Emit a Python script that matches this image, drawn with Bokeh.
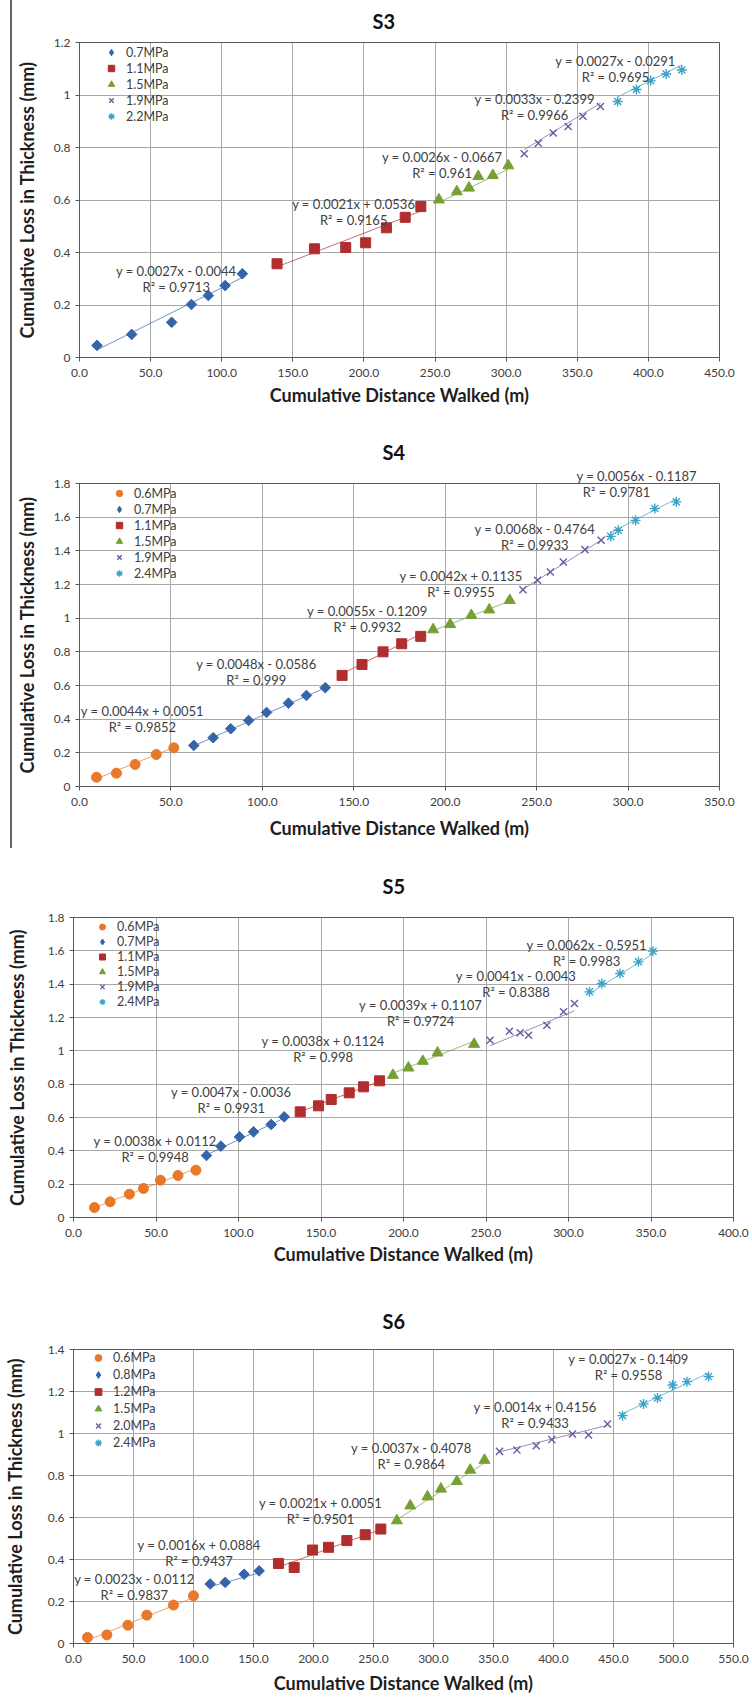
import numpy as np
from bokeh.plotting import figure
from bokeh.models import (Range1d, FixedTicker, NumeralTickFormatter, Label, Title,
                          Legend, LegendItem, Div, ColumnDataSource)
from bokeh.layouts import column, row
from bokeh.embed import file_html
from bokeh.resources import INLINE

FONT = "Lato"

# ------------------------------------------------------------------ S3 data
s3_series = ["0.7MPa", "1.1MPa", "1.5MPa", "1.9MPa", "2.2MPa"]
s3_x = [
    [12.3, 36.7, 64.8, 78.7, 90.6, 102.4, 114.5],
    [138.9, 165.2, 187.2, 201.2, 215.8, 229.0, 240.0],
    [252.7, 265.3, 273.9, 280.4, 290.6, 301.5],
    [312.7, 322.6, 333.1, 343.6, 354.0, 366.3],
    [378.4, 391.6, 401.6, 412.5, 423.5],
]
s3_y = [
    [0.046, 0.088, 0.134, 0.202, 0.236, 0.274, 0.319],
    [0.357, 0.414, 0.419, 0.437, 0.494, 0.534, 0.575],
    [0.601, 0.632, 0.646, 0.690, 0.694, 0.731],
    [0.776, 0.816, 0.855, 0.880, 0.919, 0.956],
    [0.975, 1.021, 1.054, 1.080, 1.095],
]
s3_slope = [0.0027, 0.0021, 0.0026, 0.0033, 0.0027]
s3_icpt = [-0.0044, 0.0536, -0.0667, -0.2399, -0.0291]
s3_eq = ["y = 0.0027x - 0.0044", "y = 0.0021x + 0.0536", "y = 0.0026x - 0.0667",
         "y = 0.0033x - 0.2399", "y = 0.0027x - 0.0291"]
s3_r2 = ["R² = 0.9713", "R² = 0.9165", "R² = 0.961", "R² = 0.9966", "R² = 0.9695"]
s3_lab_x = [68.0, 192.8, 255.0, 320.0, 376.9]
s3_lab_y = [0.329, 0.583, 0.763, 0.985, 1.128]
s3_xticks = [0, 50, 100, 150, 200, 250, 300, 350, 400, 450]
s3_yticks = [0, 0.2, 0.4, 0.6, 0.8, 1.0, 1.2]

# ------------------------------------------------------------------ S4 data
s4_series = ["0.6MPa", "0.7MPa", "1.1MPa", "1.5MPa", "1.9MPa", "2.4MPa"]
s4_x = [
    [9.3, 20.2, 30.4, 42.0, 51.6],
    [62.5, 73.1, 82.7, 92.5, 102.3, 114.3, 124.1, 134.4],
    [143.6, 154.5, 166.0, 176.2, 186.6],
    [193.4, 202.7, 214.3, 224.1, 235.3],
    [242.5, 250.5, 257.5, 264.6, 276.4, 285.3],
    [290.5, 294.6, 304.1, 314.6, 326.4],
]
s4_y = [
    [0.055, 0.079, 0.131, 0.190, 0.230],
    [0.244, 0.290, 0.343, 0.392, 0.440, 0.495, 0.541, 0.587],
    [0.660, 0.725, 0.800, 0.848, 0.892],
    [0.932, 0.963, 1.017, 1.050, 1.106],
    [1.169, 1.225, 1.274, 1.334, 1.407, 1.463],
    [1.486, 1.522, 1.581, 1.651, 1.691],
]
s4_slope = [0.0044, 0.0048, 0.0055, 0.0042, 0.0068, 0.0056]
s4_icpt = [0.0051, -0.0586, -0.1209, 0.1135, -0.4764, -0.1187]
s4_eq = ["y = 0.0044x + 0.0051", "y = 0.0048x - 0.0586", "y = 0.0055x - 0.1209",
         "y = 0.0042x + 0.1135", "y = 0.0068x - 0.4764", "y = 0.0056x - 0.1187"]
s4_r2 = ["R² = 0.9852", "R² = 0.999", "R² = 0.9932", "R² = 0.9955", "R² = 0.9933", "R² = 0.9781"]
s4_lab_x = [34.4, 96.7, 157.4, 208.6, 249.0, 293.7]
s4_lab_y = [0.448, 0.725, 1.040, 1.249, 1.528, 1.843]
s4_xticks = [0, 50, 100, 150, 200, 250, 300, 350]
s4_yticks = [0, 0.2, 0.4, 0.6, 0.8, 1.0, 1.2, 1.4, 1.6, 1.8]

# ------------------------------------------------------------------ S5 data
s5_series = ["0.6MPa", "0.7MPa", "1.1MPa", "1.5MPa", "1.9MPa", "2.4MPa"]
s5_x = [
    [12.7, 22.2, 33.9, 42.4, 52.7, 63.3, 74.2],
    [80.6, 89.3, 100.6, 109.1, 119.8, 127.7],
    [137.4, 148.5, 156.2, 167.1, 175.8, 185.5],
    [193.6, 203.0, 211.7, 220.6, 242.8],
    [252.5, 264.2, 270.7, 275.8, 286.9, 297.0, 303.6],
    [312.7, 320.2, 331.3, 342.4, 351.2],
]
s5_y = [
    [0.060, 0.094, 0.140, 0.174, 0.224, 0.252, 0.284],
    [0.372, 0.428, 0.484, 0.514, 0.558, 0.604],
    [0.634, 0.670, 0.708, 0.748, 0.784, 0.820],
    [0.854, 0.898, 0.938, 0.988, 1.040],
    [1.064, 1.118, 1.108, 1.094, 1.154, 1.234, 1.284],
    [1.354, 1.404, 1.464, 1.534, 1.598],
]
s5_slope = [0.0038, 0.0047, 0.0038, 0.0039, 0.0041, 0.0062]
s5_icpt = [0.0112, -0.0036, 0.1124, 0.1107, -0.0043, -0.5951]
s5_eq = ["y = 0.0038x + 0.0112", "y = 0.0047x - 0.0036", "y = 0.0038x + 0.1124",
         "y = 0.0039x + 0.1107", "y = 0.0041x - 0.0043", "y = 0.0062x - 0.5951"]
s5_r2 = ["R² = 0.9948", "R² = 0.9931", "R² = 0.998", "R² = 0.9724", "R² = 0.8388", "R² = 0.9983"]
s5_lab_x = [49.5, 95.6, 151.3, 210.4, 268.2, 311.0]
s5_lab_y = [0.458, 0.754, 1.058, 1.278, 1.450, 1.638]
s5_xticks = [0, 50, 100, 150, 200, 250, 300, 350, 400]
s5_yticks = [0, 0.2, 0.4, 0.6, 0.8, 1.0, 1.2, 1.4, 1.6, 1.8]

# ------------------------------------------------------------------ S6 data
s6_series = ["0.6MPa", "0.8MPa", "1.2MPa", "1.5MPa", "2.0MPa", "2.4MPa"]
s6_x = [
    [11.7, 27.8, 45.3, 61.1, 83.3, 100.0],
    [113.9, 126.4, 142.2, 154.7],
    [170.8, 183.9, 199.2, 212.5, 227.8, 243.1, 256.1],
    [269.5, 280.6, 295.0, 306.2, 319.5, 330.6, 342.5],
    [355.0, 369.5, 385.6, 398.6, 415.8, 429.2, 445.0],
    [457.5, 475.0, 486.7, 499.2, 511.2, 529.2],
]
s6_y = [
    [0.029, 0.041, 0.087, 0.135, 0.183, 0.227],
    [0.283, 0.291, 0.330, 0.346],
    [0.381, 0.362, 0.445, 0.458, 0.490, 0.518, 0.545],
    [0.585, 0.656, 0.699, 0.736, 0.772, 0.826, 0.873],
    [0.915, 0.921, 0.942, 0.971, 0.998, 0.993, 1.045],
    [1.085, 1.141, 1.169, 1.231, 1.247, 1.271],
]
s6_slope = [0.0023, 0.0016, 0.0021, 0.0037, 0.0014, 0.0027]
s6_icpt = [-0.0112, 0.0884, 0.0051, -0.4078, 0.4156, -0.1409]
s6_eq = ["y = 0.0023x - 0.0112", "y = 0.0016x + 0.0884", "y = 0.0021x + 0.0051",
         "y = 0.0037x - 0.4078", "y = 0.0014x + 0.4156", "y = 0.0027x - 0.1409"]
s6_r2 = ["R² = 0.9837", "R² = 0.9437", "R² = 0.9501", "R² = 0.9864", "R² = 0.9433", "R² = 0.9558"]
s6_lab_x = [50.7, 104.6, 205.8, 281.5, 384.6, 462.5]
s6_lab_y = [0.306, 0.470, 0.669, 0.931, 1.125, 1.355]
s6_xticks = [0, 50, 100, 150, 200, 250, 300, 350, 400, 450, 500, 550]
s6_yticks = [0, 0.2, 0.4, 0.6, 0.8, 1.0, 1.2, 1.4]

# ------------------------------------------------------------------ styles
STY = {
    "circle":   dict(marker="circle", leg="circle", size=10, color="#E8782A", angle=0.0, lw=1),
    "diamond":  dict(marker="square", leg="diamond", size=7.5, color="#3565A8", angle=np.pi / 4, lw=1),
    "square":   dict(marker="square", leg="square", size=10, color="#B02E2E", angle=0.0, lw=1),
    "triangle": dict(marker="triangle", leg="triangle", size=11, color="#77A034", angle=0.0, lw=1),
    "x":        dict(marker="x", leg="x", size=10, color="#6B5B9E", angle=0.0, lw=1.4),
    "asterisk": dict(marker="asterisk", leg="asterisk", size=10, color="#3BA3C9", angle=0.0, lw=1.4),
}
M5 = ["diamond", "square", "triangle", "x", "asterisk"]
M6 = ["circle", "diamond", "square", "triangle", "x", "asterisk"]
TXT = "#404040"


def panel(name, width, height, bl, br, bt, bb, xmax, ymax, xticks, yticks, markers,
          series, xs, ys, slopes, icpts, eqs, r2s, lab_x, lab_y, ttl, leg,
          ylab_so, xlab_so, xtick_so):
    fw = width - bl - br
    fh = height - bt - bb
    p = figure(width=width, height=height, output_backend="svg", toolbar_location=None,
               x_range=Range1d(0, xmax), y_range=Range1d(0, ymax), title=name,
               min_border_left=bl, min_border_right=br, min_border_top=bt,
               min_border_bottom=bb, background_fill_color="white",
               border_fill_color="white")
    t_off, t_so, t_va = ttl
    p.title.align = "left"
    p.title.offset = t_off
    p.title.standoff = t_so
    p.title.vertical_align = t_va
    p.title.text_font = FONT
    p.title.text_font_size = "20px"
    p.title.text_font_style = "bold"
    p.title.text_color = "#111111"

    p.outline_line_color = "#595959"
    p.outline_line_width = 1
    p.xaxis.ticker = FixedTicker(ticks=xticks)
    p.yaxis.ticker = FixedTicker(ticks=yticks)
    p.xaxis.formatter = NumeralTickFormatter(format="0.0")
    p.yaxis.formatter = NumeralTickFormatter(format="0.[0]")
    for ax in (p.xaxis, p.yaxis):
        ax.axis_line_color = "#595959"
        ax.major_tick_line_color = "#595959"
        ax.major_tick_out = 4
        ax.major_tick_in = 0
        ax.minor_tick_line_color = None
        ax.major_label_text_font = FONT
        ax.major_label_text_font_size = "12px"
        ax.major_label_text_color = TXT
        ax.axis_label_text_font = FONT
        ax.axis_label_text_font_size = "18px"
        ax.axis_label_text_font_style = "bold"
        ax.axis_label_text_color = "#1e1e1e"
    p.xaxis.axis_label = "Cumulative Distance Walked (m)"
    p.yaxis.axis_label = "Cumulative Loss in Thickness (mm)"
    p.xaxis.major_label_standoff = xtick_so
    p.yaxis.major_label_standoff = 5
    p.xaxis.axis_label_standoff = xlab_so
    p.yaxis.axis_label_standoff = ylab_so
    p.xgrid.grid_line_color = "#a8a8a8"
    p.ygrid.grid_line_color = "#a8a8a8"

    items = []
    for i, mk in enumerate(markers):
        st = STY[mk]
        src = ColumnDataSource(dict(x=xs[i], y=ys[i]))
        x0, x1 = min(xs[i]), max(xs[i])
        lx = np.array([x0, x1])
        p.line(lx, slopes[i] * lx + icpts[i], line_color=st["color"], line_alpha=0.7,
               line_width=1)
        r = p.scatter("x", "y", source=src, marker=st["marker"], size=st["size"],
                      angle=st["angle"], fill_color=st["color"], line_color=st["color"],
                      line_width=st["lw"])
        if st["leg"] != st["marker"]:
            # hidden twin renderer that only supplies the legend symbol
            r = p.scatter("x", "y", source=src, marker=st["leg"], size=st["size"],
                          fill_color=st["color"], line_color=st["color"],
                          line_width=st["lw"], visible=False)
        items.append(LegendItem(label=series[i], renderers=[r]))
        if lab_y[i] > ymax:
            # equation sits above the plot area: draw it in the panel above the frame
            fx = lab_x[i] / xmax * fw
            eq_t = Title(text=eqs[i], align="left", offset=int(round(fx - 52)),
                         standoff=0, vertical_align="bottom", text_font=FONT,
                         text_font_size="13px", text_font_style="normal",
                         text_color=TXT)
            p.add_layout(eq_t, "above")
        else:
            p.add_layout(Label(x=lab_x[i], y=lab_y[i], text=eqs[i], text_align="center",
                               text_baseline="middle", text_font=FONT,
                               text_font_size="13px", text_color=TXT))
        p.add_layout(Label(x=lab_x[i], y=lab_y[i], y_offset=-16, text=r2s[i],
                           text_align="center", text_baseline="middle", text_font=FONT,
                           text_font_size="13px", text_color=TXT))

    ox, oy, rh = leg
    n = len(items)
    legend = Legend(items=items, location=(ox - 10, int(round(fh - (oy - rh / 2) - n * rh))),
                    glyph_width=20, glyph_height=rh, label_height=rh, spacing=0,
                    padding=0, margin=0, label_standoff=5, label_text_font=FONT,
                    label_text_font_size="12.5px", label_text_color=TXT,
                    border_line_color=None, background_fill_alpha=0,
                    inactive_fill_alpha=0)
    p.add_layout(legend)
    return p


# the page itself starts at the window's top-left corner
p3 = panel("S3", 740, 420, 61, 33, 42, 63, 450, 1.2, s3_xticks, s3_yticks, M5,
           s3_series, s3_x, s3_y, s3_slope, s3_icpt, s3_eq, s3_r2, s3_lab_x, s3_lab_y,
           (293, 16, "top"), (32, 10, 16), 13, 4, 7)
p4 = panel("S4", 740, 428, 61, 25, 63, 62, 350, 1.8, s4_xticks, s4_yticks, M6,
           s4_series, s4_x, s4_y, s4_slope, s4_icpt, s4_eq, s4_r2, s4_lab_x, s4_lab_y,
           (303, 3, "bottom"), (40, 10, 16), 13, 8, 7)
p5 = panel("S5", 752, 429, 73, 19, 69, 60, 400, 1.8, s5_xticks, s5_yticks, M6,
           s5_series, s5_x, s5_y, s5_slope, s5_icpt, s5_eq, s5_r2, s5_lab_x, s5_lab_y,
           (309, 40, "bottom"), (29, 9, 15), 17, 3, 7)
p6 = panel("S6", 752, 420, 73, 19, 72, 54, 550, 1.4, s6_xticks, s6_yticks, M6,
           s6_series, s6_x, s6_y, s6_slope, s6_icpt, s6_eq, s6_r2, s6_lab_x, s6_lab_y,
           (309, 34, "bottom"), (25, 9, 17), 19, 6, 7)

bar = Div(text='<div style="margin-left:10px;width:2px;height:848px;background:#666666"></div>',
          width=12, height=848, margin=(0, 0, 0, 0))

layout = column(row(bar, column(p3, p4, margin=(0, 0, 0, 0)), margin=(0, 0, 0, 0)),
                p5, p6)

open("out.html", "w").write(file_html(layout, INLINE))
